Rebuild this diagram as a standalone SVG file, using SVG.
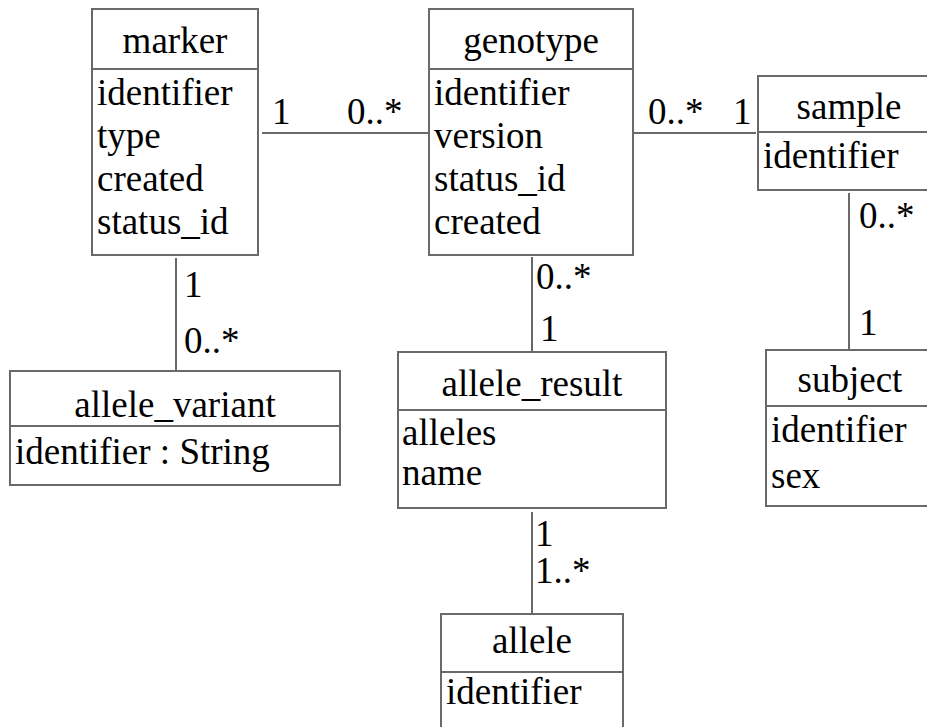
<svg xmlns="http://www.w3.org/2000/svg" width="927" height="727" viewBox="0 0 927 727" font-family="Liberation Serif, DejaVu Serif, serif" font-size="37">
<style>
  .box { fill: #ffffff; stroke: #6a6a6a; stroke-width: 2; }
  .div { stroke: #6a6a6a; stroke-width: 2; }
  .conn { stroke: #6a6a6a; stroke-width: 2; fill: none; }
  .t { text-anchor: middle; }
</style>
<rect width="927" height="727" fill="#ffffff"/>
<g id="connectors">
  <line class="conn" x1="262" y1="133" x2="428" y2="133"/>
  <line class="conn" x1="634" y1="133" x2="756" y2="133"/>
  <line class="conn" x1="849" y1="193" x2="849" y2="349"/>
  <line class="conn" x1="176" y1="258" x2="176" y2="371"/>
  <line class="conn" x1="532" y1="257" x2="532" y2="352"/>
  <line class="conn" x1="532" y1="512" x2="532" y2="613"/>
  <text x="272" y="124">1</text>
  <text x="347" y="124">0..*</text>
  <text x="648" y="124">0..*</text>
  <text x="733" y="124">1</text>
  <text x="859" y="228">0..*</text>
  <text x="859" y="335">1</text>
  <text x="184" y="297">1</text>
  <text x="184" y="353">0..*</text>
  <text x="536" y="289">0..*</text>
  <text x="540" y="341">1</text>
  <text x="535" y="546">1</text>
  <text x="535" y="583">1..*</text>
</g>
<g id="marker">
  <rect class="box" x="92" y="9" width="166" height="246"/>
  <line class="div" x1="92" y1="69" x2="258" y2="69"/>
  <text class="t" x="175" y="53">marker</text>
  <text x="97" y="105">identifier</text>
  <text x="97" y="148">type</text>
  <text x="97" y="191">created</text>
  <text x="97" y="234">status_id</text>
</g>
<g id="genotype">
  <rect class="box" x="429" y="9" width="204" height="246"/>
  <line class="div" x1="429" y1="69" x2="633" y2="69"/>
  <text class="t" x="531" y="53">genotype</text>
  <text x="434" y="105">identifier</text>
  <text x="434" y="148">version</text>
  <text x="434" y="191">status_id</text>
  <text x="434" y="234">created</text>
</g>
<g id="sample">
  <rect class="box" x="758" y="76" width="182" height="114"/>
  <line class="div" x1="758" y1="132" x2="940" y2="132"/>
  <text class="t" x="849" y="119">sample</text>
  <text x="763" y="168">identifier</text>
</g>
<g id="subject">
  <rect class="box" x="766" y="350" width="170" height="156"/>
  <line class="div" x1="766" y1="406" x2="936" y2="406"/>
  <text class="t" x="850" y="392">subject</text>
  <text x="771" y="442">identifier</text>
  <text x="771" y="488">sex</text>
</g>
<g id="allele_variant">
  <rect class="box" x="10" y="371" width="330" height="114"/>
  <line class="div" x1="10" y1="426" x2="340" y2="426"/>
  <text class="t" x="175" y="417">allele_variant</text>
  <text x="15" y="464">identifier : String</text>
</g>
<g id="allele_result">
  <rect class="box" x="398" y="352" width="268" height="156"/>
  <line class="div" x1="398" y1="410" x2="666" y2="410"/>
  <text class="t" x="532" y="396">allele_result</text>
  <text x="402" y="445">alleles</text>
  <text x="402" y="485">name</text>
</g>
<g id="allele">
  <rect class="box" x="441" y="614" width="182" height="130"/>
  <line class="div" x1="441" y1="672" x2="623" y2="672"/>
  <text class="t" x="532" y="653">allele</text>
  <text x="446" y="704">identifier</text>
</g>
</svg>
